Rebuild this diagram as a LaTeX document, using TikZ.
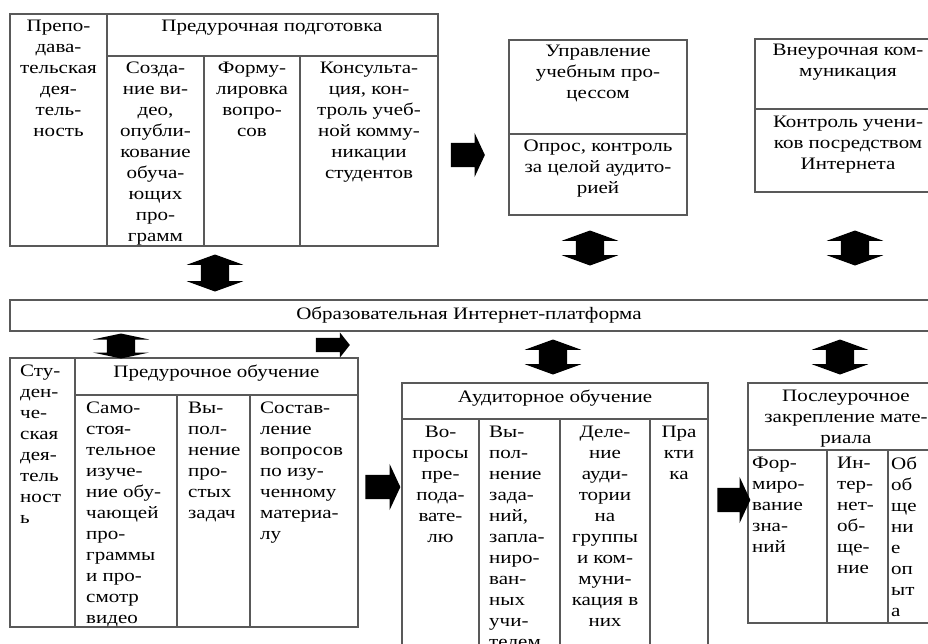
\documentclass[tikz,border=0pt]{standalone}
\usepackage{fontspec}
\setmainfont{Liberation Serif}[FakeStretch=1.2]
\usetikzlibrary{shapes.arrows}

\begin{document}
\begin{tikzpicture}[
  x=1pt,y=-1pt,
  font=\fontsize{17.5}{21}\selectfont,
  grid/.style={draw=black!65,line width=1.2pt},
  cell/.style={anchor=north,align=center,inner sep=0pt},
  lcell/.style={anchor=north west,align=left,inner sep=0pt},
  rarrow/.style={single arrow,fill=black,inner sep=0pt,inner ysep=12pt,
    single arrow head extend=10pt,single arrow tip angle=130,minimum height=34pt},
  dblarrow/.style={double arrow,fill=black,rotate=90,inner sep=0pt,inner ysep=14pt,
    double arrow head extend=14pt,double arrow tip angle=140,minimum height=37pt}
]
\useasboundingbox (0,0) rectangle (928,643);
\clip (0,0) rectangle (928,643);

% teacher side
\draw[grid] (10,14) rectangle (438,246);
\draw[grid] (107,14)--(107,246) (107,56)--(438,56) (204,56)--(204,246) (300,56)--(300,246);
\node[cell] (teach) at (58.5,20) {Препо-\\дава-\\тельская\\дея-\\тель-\\ность};
\node[cell] (prep) at (272,20) {Предурочная подготовка};
\node[cell] (video) at (155.5,62) {Созда-\\ние ви-\\део,\\опубли-\\кование\\обуча-\\ющих\\про-\\грамм};
\node[cell] (quest) at (252,62) {Форму-\\лировка\\вопро-\\сов};
\node[cell] (consult) at (369,62) {Консульта-\\ция, кон-\\троль учеб-\\ной комму-\\никации\\студентов};

\draw[grid] (509,40) rectangle (687,215);
\draw[grid] (509,134)--(687,134);
\node[cell] (manage) at (598,45) {Управление\\учебным про-\\цессом};
\node[cell] (poll) at (598,140) {Опрос, контроль\\за целой аудито-\\рией};

\draw[grid] (755,39) rectangle (942,192);
\draw[grid] (755,109)--(942,109);
\node[cell] (extra) at (848,44) {Внеурочная ком-\\муникация};
\node[cell] (control) at (848,116) {Контроль учени-\\ков посредством\\Интернета};

% platform
\draw[grid] (10,300) rectangle (942,331);
\node[inner sep=0pt] (platform) at (469,315.5) {Образовательная Интернет-платформа};

% student side
\draw[grid] (10,358) rectangle (358,627);
\draw[grid] (75,358)--(75,627) (75,395)--(358,395) (177,395)--(177,627) (250,395)--(250,627);
\node[lcell] (stud) at (20,365) {Сту-\\ден-\\че-\\ская\\дея-\\тель\\ност\\ь};
\node[cell] (prelearn) at (216.5,365) {Предурочное обучение};
\node[lcell] (self) at (86,402) {Само-\\стоя-\\тельное\\изуче-\\ние обу-\\чающей\\про-\\граммы\\и про-\\смотр\\видео};
\node[lcell] (tasks) at (188,402) {Вы-\\пол-\\нение\\про-\\стых\\задач};
\node[lcell] (compose) at (260,402) {Состав-\\ление\\вопросов\\по изу-\\ченному\\материа-\\лу};

\draw[grid] (402,383) rectangle (708,700);
\draw[grid] (402,419)--(708,419) (479,419)--(479,700) (560,419)--(560,700) (650,419)--(650,700);
\node[cell] (class) at (555,390) {Аудиторное обучение};
\node[cell] (ask) at (440.5,426) {Во-\\просы\\пре-\\пода-\\вате-\\лю};
\node[lcell] (plan) at (489,426) {Вы-\\пол-\\нение\\зада-\\ний,\\запла-\\ниро-\\ван-\\ных\\учи-\\телем};
\node[cell] (groups) at (605,426) {Деле-\\ние\\ауди-\\тории\\на\\группы\\и ком-\\муни-\\кация в\\них};
\node[cell] (practice) at (679,426) {Пра\\кти\\ка};

\draw[grid] (748,383) rectangle (944,623);
\draw[grid] (748,450)--(944,450) (827,450)--(827,623) (888,450)--(888,623);
\node[cell] (after) at (846,390) {Послеурочное\\закрепление мате-\\риала};
\node[lcell] (know) at (752,457) {Фор-\\миро-\\вание\\зна-\\ний};
\node[lcell] (net) at (837,457) {Ин-\\тер-\\нет-\\об-\\ще-\\ние};
\node[lcell] (share) at (891,457) {Об\\об\\ще\\ни\\е\\оп\\ыт\\а};

% block arrows
\node[rarrow] (a1) at (465,155) {};
\node[rarrow,inner ysep=7pt,single arrow head extend=5.5pt,single arrow tip angle=103] (a2) at (330,345) {};
\node[rarrow,minimum height=35pt,single arrow head extend=11pt] (a3) at (380,487) {};
\node[rarrow,minimum height=33pt,single arrow head extend=11pt] (a4) at (731,500) {};
\node[dblarrow] (d1) at (215,273) {};
\node[dblarrow,minimum height=35pt] (d2) at (590,248) {};
\node[dblarrow,minimum height=35pt] (d3) at (855,248) {};
\node[dblarrow,minimum height=25pt,double arrow tip angle=156] (d4) at (121,346) {};
\node[dblarrow,minimum height=35pt] (d5) at (553,357) {};
\node[dblarrow,minimum height=35pt] (d6) at (840,357) {};
\end{tikzpicture}
\end{document}
